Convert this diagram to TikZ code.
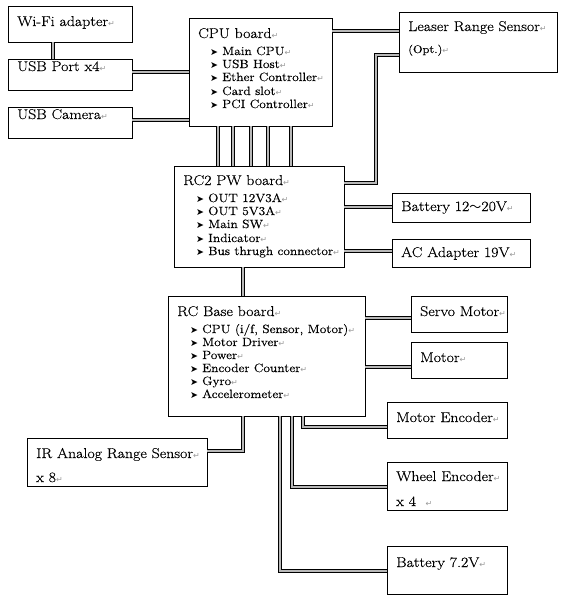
\documentclass[tikz,border=0pt]{standalone}
\usepackage{fontspec}
\setmainfont{Latin Modern Roman}[FakeStretch=1.12, FakeBold=0.35]
\usetikzlibrary{fit}
\newfontfamily\dejavu{DejaVu Sans}
\newfontfamily\cjkfont{Noto Sans CJK SC}
\newcommand\retmark{{\dejavu\fontsize{8}{8}\selectfont\textcolor{black!40}{↵}}}
\newcommand\bulmark{\makebox[12pt][l]{\dejavu\fontsize{9.5}{10}\selectfont ➤}}
\tikzset{
  box/.style={draw=black, line width=0.9pt, fill=white, inner sep=0pt},
  cable/.style={draw=black, line width=0.75pt, double=black!28, double distance=1.8pt},
  title/.style={anchor=base west, inner sep=0pt, font=\fontsize{14.2}{16}\selectfont},
  item/.style={anchor=base west, inner sep=0pt, font=\fontsize{12}{14}\selectfont},
  small/.style={anchor=base west, inner sep=0pt, font=\fontsize{11}{13}\selectfont},
}
\begin{document}
\begin{tikzpicture}[x=1pt,y=-1pt]
\useasboundingbox (0,0) rectangle (562,600);
% boxes
\node[box, fit={(8,6) (132,42)}] (wifi) {};
\node[box, fit={(8,59) (132,90)}] (usb) {};
\node[box, fit={(8,107) (132,138)}] (cam) {};
\node[box, fit={(189,18) (332,126)}] (cpu) {};
\node[box, fit={(399,12) (557,72)}] (laser) {};
\node[box, fit={(174,166) (344,267)}] (pw) {};
\node[box, fit={(392,193) (530,222)}] (bat12) {};
\node[box, fit={(392,239) (530,267)}] (ac) {};
\node[box, fit={(168,296) (365,416)}] (base) {};
\node[box, fit={(411,296) (507,332)}] (servo) {};
\node[box, fit={(411,342) (507,378)}] (motor) {};
\node[box, fit={(387,402) (507,438)}] (me) {};
\node[box, fit={(27,438) (207,486)}] (ir) {};
\node[box, fit={(387,462) (507,510)}] (we) {};
\node[box, fit={(387,546) (507,594)}] (bat7) {};
% connectors
\draw[cable] (wifi.south -| 53,0) -- (usb.north -| 53,0);
\draw[cable] (usb.east |- 0,72) -- (cpu.west |- 0,72);
\draw[cable] (cam.east |- 0,120) -- (cpu.west |- 0,120);
\draw[cable] (cpu.east |- 0,31) -- (laser.west |- 0,31);
\draw[cable] (laser.west |- 0,55) -- (376,55) -- (376,183) -- (pw.east |- 0,183);
\foreach \xx in {218,233,251,268,291}
  \draw[cable] (cpu.south -| \xx,0) -- (pw.north -| \xx,0);
\draw[cable] (pw.east |- 0,207) -- (bat12.west |- 0,207);
\draw[cable] (pw.east |- 0,251) -- (ac.west |- 0,251);
\draw[cable] (pw.south -| 243,0) -- (base.north -| 243,0);
\draw[cable] (base.east |- 0,318) -- (servo.west |- 0,318);
\draw[cable] (base.east |- 0,367) -- (motor.west |- 0,367);
\draw[cable] (base.south -| 303,0) -- (303,427) -- (me.west |- 0,427);
\draw[cable] (base.south -| 292,0) -- (292,487) -- (we.west |- 0,487);
\draw[cable] (base.south -| 280,0) -- (280,571) -- (bat7.west |- 0,571);
\draw[cable] (base.south -| 243,0) -- (243,451) -- (ir.east |- 0,451);
% texts
\node[title] (twifi) at (17,26) {Wi-Fi adapter\retmark};
\node[title] (tusb) at (17,71) {USB Port x4\retmark};
\node[title] (tcam) at (17,119) {USB Camera\retmark};
\node[title] (tcpu) at (198,38) {CPU board\retmark};
\node[item] (cpu1) at (210,55) {\bulmark Main CPU\retmark};
\node[item] (cpu2) at (210,68) {\bulmark USB Host\retmark};
\node[item] (cpu3) at (210,81) {\bulmark Ether Controller\retmark};
\node[item] (cpu4) at (210,95) {\bulmark Card slot\retmark};
\node[item] (cpu5) at (210,108) {\bulmark PCI Controller\retmark};
\node[title] (tlaser) at (408,31) {Leaser Range Sensor\retmark};
\node[small] (topt) at (408,53) {(Opt.)\retmark};
\node[title] (tpw) at (183,185) {RC2 PW board\retmark};
\node[item] (pw1) at (196,202) {\bulmark OUT 12V3A\retmark};
\node[item] (pw2) at (196,215) {\bulmark OUT 5V3A\retmark};
\node[item] (pw3) at (196,228) {\bulmark Main SW\retmark};
\node[item] (pw4) at (196,242) {\bulmark Indicator\retmark};
\node[item] (pw5) at (196,255) {\bulmark Bus thrugh connector\retmark};
\node[title] (tbat12) at (401,211) {Battery 12{\cjkfont\fontsize{12}{12}\selectfont ～}20V\retmark};
\node[title] (tac) at (401,257) {AC Adapter 19V\retmark};
\node[title] (tbase) at (177,316) {RC Base board\retmark};
\node[item] (b1) at (190,333) {\bulmark CPU (i/f, Sensor, Motor)\retmark};
\node[item] (b2) at (190,346) {\bulmark Motor Driver\retmark};
\node[item] (b3) at (190,359) {\bulmark Power\retmark};
\node[item] (b4) at (190,372) {\bulmark Encoder Counter\retmark};
\node[item] (b5) at (190,385) {\bulmark Gyro\retmark};
\node[item] (b6) at (190,398) {\bulmark Accelerometer\retmark};
\node[title] (tservo) at (420,316) {Servo Motor\retmark};
\node[title] (tmotor) at (420,362) {Motor\retmark};
\node[title] (tme) at (396,422) {Motor Encoder\retmark};
\node[title] (tir) at (36,458) {IR Analog Range Sensor\retmark};
\node[title] (tir2) at (36,482) {x 8\retmark};
\node[title] (twe) at (396,481) {Wheel Encoder\retmark};
\node[title] (twe2) at (396,506) {x 4 \ \retmark};
\node[title] (tbat7) at (396,567) {Battery 7.2V\retmark};
\end{tikzpicture}
\end{document}
